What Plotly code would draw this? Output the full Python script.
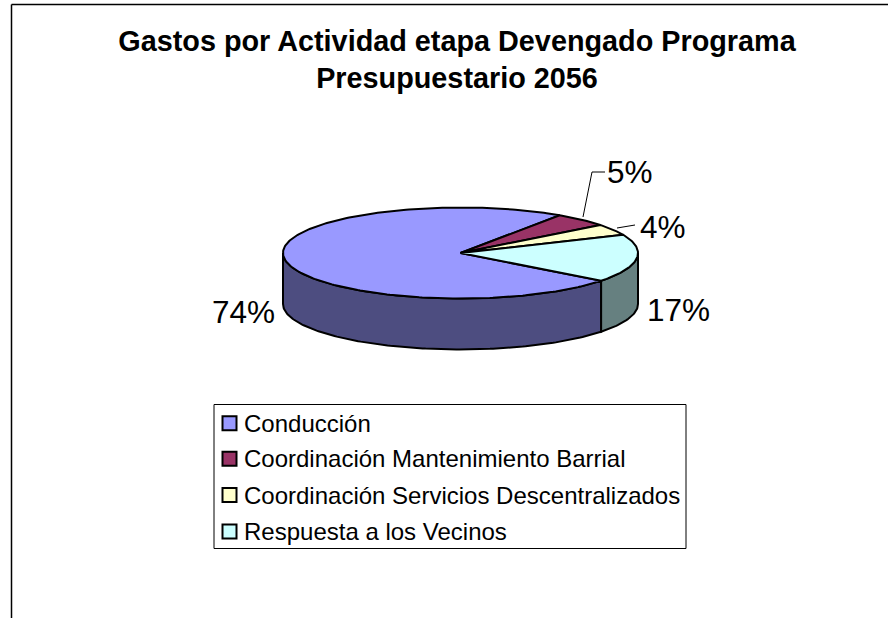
import numpy as np
import plotly.graph_objects as go

# Data
categories = ["Conducción", "Coordinación Mantenimiento Barrial",
              "Coordinación Servicios Descentralizados", "Respuesta a los Vecinos"]
values = [74, 5, 4, 17]
top_colors = ["#9999FF", "#993366", "#FFFFCC", "#CCFFFF"]
side_colors = ["#4D4D80", "#4D1A33", "#808066", "#668080"]
title_lines = ["Gastos por Actividad etapa Devengado Programa", "Presupuestario 2056"]

# Pie geometry (pixels on hidden axes)
W, H = 888, 618
CX, CY, RX, RY, DEPTH = 460.5, 253, 177.5, 45.5, 51
START = 37.6


def arc(t0, t1, dy=0.0):
    n = max(2, int(abs(t1 - t0)) + 2)
    t = np.radians(np.linspace(t0, t1, n))
    return CX + RX * np.cos(t), CY + dy + RY * np.sin(t)


fig = go.Figure()
total = sum(values)
edges = START + np.concatenate([[0], np.cumsum(values)]) * 360 / total
line = dict(color="black", width=2)

# Sides: only what lies on the front half (0..180 deg, and 360..540)
for i in range(len(values)):
    for lo, hi in [(0, 180), (360, 540)]:
        a, b = max(edges[i], lo), min(edges[i + 1], hi)
        if b > a:
            x1, y1 = arc(a, b)
            x2, y2 = arc(b, a, DEPTH)
            fig.add_trace(go.Scatter(x=np.r_[x1, x2, x1[0]], y=np.r_[y1, y2, y1[0]],
                                     mode="lines", fill="toself", fillcolor=side_colors[i],
                                     line=line, name=categories[i], showlegend=False,
                                     hoverinfo="name"))
# Top faces
for i in range(len(values)):
    x1, y1 = arc(edges[i], edges[i + 1])
    fig.add_trace(go.Scatter(x=np.r_[CX, x1, CX], y=np.r_[CY, y1, CY],
                             mode="lines", fill="toself", fillcolor=top_colors[i],
                             line=line, name=categories[i], showlegend=False,
                             hoverinfo="name"))

shapes = [
    dict(type="line", x0=11.5, x1=11.5, y0=4.5, y1=H, line=dict(color="black", width=1.5)),
    dict(type="line", x0=11.5, x1=W, y0=4.5, y1=4.5, line=dict(color="black", width=1.5)),
    # leader lines
    dict(type="path", path="M 583 217 L 592 172 L 605 172", line=dict(color="black", width=1)),
    dict(type="line", x0=617, y0=228, x1=635, y1=225, line=dict(color="black", width=1)),
    # legend box
    dict(type="rect", x0=214, x1=686, y0=404.5, y1=548.5, line=dict(color="black", width=1),
         fillcolor="white"),
]
annotations = []
label_pos = [(210, 312), (605, 172), (638, 227), (645, 310)]
for v, (lx, ly) in zip(values, label_pos):
    annotations.append(dict(x=lx, y=ly, text=f"{v}%", showarrow=False, xanchor="left",
                            yanchor="middle", font=dict(size=31.5, color="black")))
rows = [423.3, 458.8, 495, 531.5]
for name, col, ry in zip(categories, top_colors, rows):
    shapes.append(dict(type="rect", x0=222.5, x1=236.5, y0=ry - 7, y1=ry + 7, fillcolor=col,
                       line=dict(color="black", width=2)))
    annotations.append(dict(x=241.5, y=ry, text=name, showarrow=False, xanchor="left",
                            yanchor="middle", font=dict(size=24, color="black")))

fig.update_layout(
    width=W, height=H, margin=dict(l=0, r=0, t=0, b=0),
    paper_bgcolor="white", plot_bgcolor="white", showlegend=False,
    font=dict(family="Liberation Sans, Arial, sans-serif"),
    title=dict(text="<br>".join(title_lines), x=457 / W, xanchor="center", xref="paper",
               y=1 - 51 / H, yanchor="middle", yref="container",
               font=dict(size=28.8, color="black", family="Liberation Sans, Arial, sans-serif", weight="bold")),
    xaxis=dict(range=[0, W], visible=False, fixedrange=True),
    yaxis=dict(range=[H, 0], visible=False, fixedrange=True),
    shapes=shapes, annotations=annotations,
)
fig.write_html("out.html", config=dict(displayModeBar=False),
               post_script="document.body.style.margin='0';document.body.style.overflow='hidden';")
